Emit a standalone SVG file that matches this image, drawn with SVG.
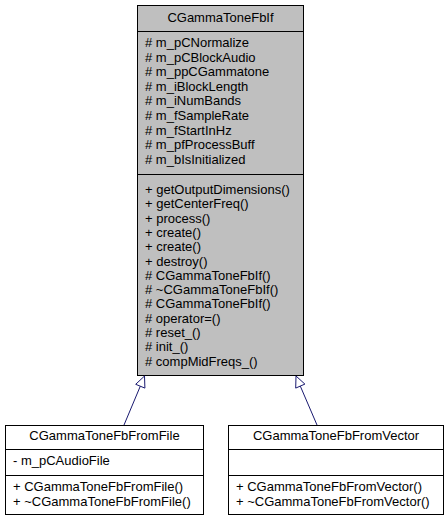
<svg xmlns="http://www.w3.org/2000/svg" width="448" height="521" viewBox="0 0 448 521">
<style>
text{font-family:"Liberation Sans",Arial,sans-serif;font-size:13px;fill:#000}
.c{text-anchor:middle}
.box{stroke:#000;stroke-width:1}
.edge{stroke:#191970;stroke-width:1;fill:none}
.head{stroke:#191970;stroke-width:1;fill:#fff}
</style>
<rect width="448" height="521" fill="#fff"/>
<g id="CGammaToneFbIf">
<rect class="box" x="137.5" y="5.5" width="166" height="370" fill="#bfbfbf"/>
<line class="box" x1="137.5" y1="31.5" x2="303.5" y2="31.5"/>
<line class="box" x1="137.5" y1="174.5" x2="303.5" y2="174.5"/>
<text class="c" x="220.5" y="22">CGammaToneFbIf</text>
<text x="145" y="47"># m_pCNormalize</text>
<text x="145" y="61.6"># m_pCBlockAudio</text>
<text x="145" y="76.2"># m_ppCGammatone</text>
<text x="145" y="90.8"># m_iBlockLength</text>
<text x="145" y="105.4"># m_iNumBands</text>
<text x="145" y="120"># m_fSampleRate</text>
<text x="145" y="134.6"># m_fStartInHz</text>
<text x="145" y="149.2"># m_pfProcessBuff</text>
<text x="145" y="163.8"># m_bIsInitialized</text>
<text x="145" y="194">+ getOutputDimensions()</text>
<text x="145" y="208.3">+ getCenterFreq()</text>
<text x="145" y="222.6">+ process()</text>
<text x="145" y="236.9">+ create()</text>
<text x="145" y="251.2">+ create()</text>
<text x="145" y="265.5">+ destroy()</text>
<text x="145" y="279.8"># CGammaToneFbIf()</text>
<text x="145" y="294.1"># ~CGammaToneFbIf()</text>
<text x="145" y="308.4"># CGammaToneFbIf()</text>
<text x="145" y="322.7"># operator=()</text>
<text x="145" y="337"># reset_()</text>
<text x="145" y="351.3"># init_()</text>
<text x="145" y="365.6"># compMidFreqs_()</text>
</g>
<g id="CGammaToneFbFromFile">
<rect class="box" x="5.5" y="425.5" width="198" height="89" fill="#fff"/>
<line class="box" x1="5.5" y1="449.5" x2="203.5" y2="449.5"/>
<line class="box" x1="5.5" y1="475.5" x2="203.5" y2="475.5"/>
<text class="c" x="104.5" y="440">CGammaToneFbFromFile</text>
<text x="13" y="465">- m_pCAudioFile</text>
<text x="13" y="491">+ CGammaToneFbFromFile()</text>
<text x="13" y="506">+ ~CGammaToneFbFromFile()</text>
</g>
<g id="CGammaToneFbFromVector">
<rect class="box" x="228.5" y="425.5" width="215" height="89" fill="#fff"/>
<line class="box" x1="228.5" y1="449.5" x2="443.5" y2="449.5"/>
<line class="box" x1="228.5" y1="475.5" x2="443.5" y2="475.5"/>
<text class="c" x="336" y="440">CGammaToneFbFromVector</text>
<text x="236" y="491">+ CGammaToneFbFromVector()</text>
<text x="236" y="506">+ ~CGammaToneFbFromVector()</text>
</g>
<g id="connectors">
<line class="edge" x1="124" y1="425" x2="140.3" y2="386.2"/>
<polygon class="head" points="144.5,376 144.9,388.1 135.7,384.3"/>
<line class="edge" x1="317" y1="425" x2="300.3" y2="386.1"/>
<polygon class="head" points="296,376 304.9,384.1 295.7,388.1"/>
</g>
</svg>
